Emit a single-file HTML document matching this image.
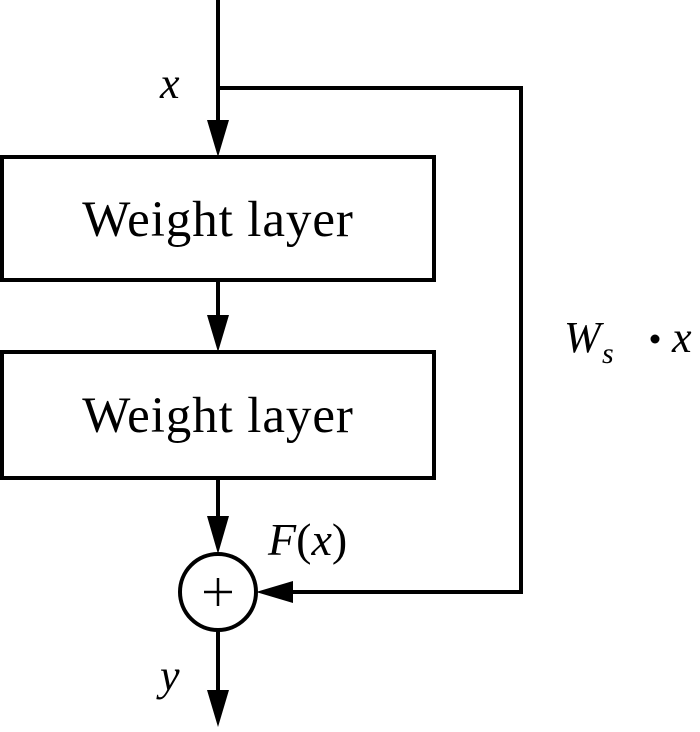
<!DOCTYPE html>
<html><head><meta charset="utf-8"><style>html,body{margin:0;padding:0;background:#fff}</style></head>
<body>
<svg width="700" height="727" viewBox="0 0 700 727" xmlns="http://www.w3.org/2000/svg" font-family="Liberation Serif, serif">
<g stroke="#000" stroke-width="4" fill="none">
<line x1="218" y1="0" x2="218" y2="125"/>
<polyline points="218,88 521,88 521,592 290,592"/>
<rect x="2" y="157" width="432" height="123"/>
<line x1="218" y1="280" x2="218" y2="320"/>
<rect x="2" y="352" width="432" height="126"/>
<line x1="218" y1="478" x2="218" y2="520"/>
<circle cx="218" cy="592" r="38" stroke-width="4"/>
<line x1="218" y1="630" x2="218" y2="695"/>
<line x1="204" y1="592" x2="232" y2="592" stroke-width="2.5"/>
<line x1="218" y1="578" x2="218" y2="606" stroke-width="2.5"/>
</g>
<g fill="#000">
<polygon points="207,120 229,120 218,157"/>
<polygon points="207,315 229,315 218,352"/>
<polygon points="207,516 229,516 218,554"/>
<polygon points="207,690 229,690 218,727"/>
<polygon points="256,592 293,581 293,603"/>
</g>
<g font-size="51" fill="#000">
<text x="218" y="236" text-anchor="middle" letter-spacing="0.9">Weight layer</text>
<text x="218" y="432" text-anchor="middle" letter-spacing="0.9">Weight layer</text>
</g>
<g font-size="44" font-style="italic" fill="#000">
<text x="160" y="98">x</text>
<text x="268" y="555" font-size="46">F<tspan font-style="normal">(</tspan>x<tspan font-style="normal">)</tspan></text>
<text x="160" y="690">y</text>
<text x="564" y="352">W</text>
<text x="602" y="363" font-size="30">s</text>
<text x="672" y="352">x</text>
</g>
<circle cx="655" cy="339" r="4.5" fill="#000"/>
</svg>
</body></html>
